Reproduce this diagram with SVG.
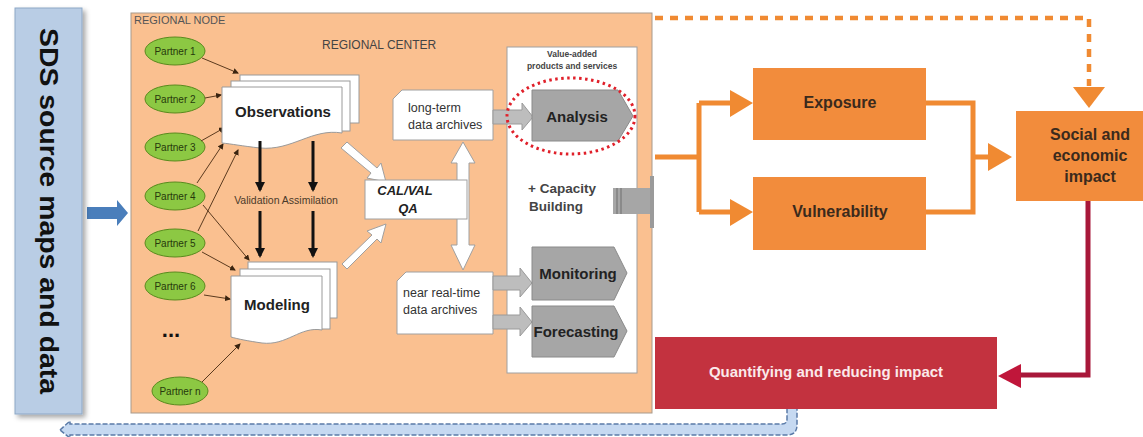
<svg xmlns="http://www.w3.org/2000/svg" width="1143" height="437" viewBox="0 0 1143 437">
<defs>
<style>
text{font-family:"Liberation Sans",Arial,sans-serif}
.pt{font-size:10px;fill:#27380c;text-anchor:middle}
.pe{fill:#8CC843;stroke:#5a8a1e;stroke-width:1}
.doc{fill:#fff;stroke:#9a9a9a;stroke-width:1}
.big{font-size:15px;font-weight:bold;fill:#222;text-anchor:middle}
.arch{fill:#fff;stroke:#a0a0a0;stroke-width:1}
.archt{font-size:12.5px;fill:#333}
.pent{fill:#A6A6A6;stroke:#8a8a8a;stroke-width:1}
.garr{fill:#bdbdbd;stroke:#9a9a9a;stroke-width:1}
.warr{fill:#fff;stroke:#a0a0a0;stroke-width:1}
.pl{stroke:#5b3a1e;stroke-width:1;fill:none;marker-end:url(#sm)}
.or{fill:#F28C3C}
.orl{stroke:#F08A32;stroke-width:5;fill:none}
.ort{font-size:16px;font-weight:bold;fill:#3b2a1c;text-anchor:middle}
.blk{stroke:#111;stroke-width:3;fill:none;marker-end:url(#bk)}
</style>
<marker id="sm" markerWidth="6" markerHeight="6" refX="5" refY="3" orient="auto" markerUnits="userSpaceOnUse"><path d="M0,0 L6,3 L0,6 Z" fill="#3a2410"/></marker>
<marker id="bk" markerWidth="10" markerHeight="10" refX="8" refY="5" orient="auto" markerUnits="userSpaceOnUse"><path d="M0,0 L10,5 L0,10 Z" fill="#111"/></marker>
<filter id="sh" x="-20%" y="-5%" width="150%" height="115%"><feDropShadow dx="3" dy="3" stdDeviation="2.5" flood-color="#000" flood-opacity="0.35"/></filter>
</defs>

<g id="connectors">
<path d="M87,207 H117 V200 L128,213 L117,226 V219 H87 Z" fill="#4A7EBB"/>
<path d="M655,18 H1089 V86" stroke="#F08A32" stroke-width="4.5" fill="none" stroke-dasharray="8,7"/>
<path d="M1073,87 H1105 L1089,108 Z" fill="#F08A32"/>
<path class="orl" d="M655,157 H699 M699,103 V212 M699,103 H732 M699,212 H732"/>
<path d="M730,90 L753,103 L730,117 Z" fill="#F08A32"/>
<path d="M730,199 L753,212 L730,226 Z" fill="#F08A32"/>
<path class="orl" d="M926,103 H973 V212 H926 M973,157 H990"/>
<path d="M988,143 L1012,157 L988,171 Z" fill="#F08A32"/>
<path d="M1088,201 V375 H1015" stroke="#A8183A" stroke-width="5" fill="none"/>
<path d="M1021,364 L998,376 L1021,388 Z" fill="#C0163A"/>
<path d="M60,430 L70,421 V424 H782 Q787,424 787,419 V404 H797 V425 Q797,435 787,435 H70 V438 Z" fill="#C6D9F1" stroke="#5B7BA8" stroke-width="1.5" stroke-dasharray="5,2"/>
</g>

<g id="sds-source">
<rect x="15" y="8" width="67" height="406" fill="#B9CDE5" stroke="#8DA7C6" stroke-width="1" filter="url(#sh)"/>
<text transform="translate(40,211) rotate(90)" text-anchor="middle" font-size="25" font-weight="bold" fill="#111" textLength="366" lengthAdjust="spacingAndGlyphs">SDS source maps and data</text>
</g>

<g id="regional-node">
<rect x="131" y="13" width="521" height="400" fill="#FAC090" stroke="#a89a8c" stroke-width="1"/>
<text x="134" y="24" font-size="11" fill="#555">REGIONAL NODE</text>
<text x="322" y="49" font-size="12" fill="#444">REGIONAL CENTER</text>
</g>

<g id="partners">
<ellipse class="pe" cx="175" cy="51" rx="30" ry="14"/><text class="pt" x="175" y="55">Partner 1</text>
<ellipse class="pe" cx="175" cy="99" rx="30" ry="14"/><text class="pt" x="175" y="103">Partner 2</text>
<ellipse class="pe" cx="175" cy="147" rx="30" ry="14"/><text class="pt" x="175" y="151">Partner 3</text>
<ellipse class="pe" cx="175" cy="196" rx="30" ry="14"/><text class="pt" x="175" y="200">Partner 4</text>
<ellipse class="pe" cx="175" cy="243" rx="30" ry="14"/><text class="pt" x="175" y="247">Partner 5</text>
<ellipse class="pe" cx="175" cy="286" rx="30" ry="14"/><text class="pt" x="175" y="290">Partner 6</text>
<ellipse class="pe" cx="180" cy="391" rx="28" ry="14"/><text class="pt" x="180" y="395">Partner n</text>
<text x="171" y="337" font-size="22" font-weight="bold" fill="#111" text-anchor="middle">...</text>
</g>

<g id="partner-links">
<path class="pl" d="M202,58 L238,73"/>
<path class="pl" d="M205,98 L221,95"/>
<path class="pl" d="M201,141 L224,128"/>
<path class="pl" d="M197,183 L223,144"/>
<path class="pl" d="M198,231 L238,150"/>
<path class="pl" d="M203,205 L249,260"/>
<path class="pl" d="M202,252 L235,270"/>
<path class="pl" d="M204,295 L230,299"/>
<path class="pl" d="M202,382 L240,344"/>
</g>

<g id="observations">
<rect class="doc" x="240" y="75" width="119" height="48"/>
<rect class="doc" x="231" y="81" width="119" height="50"/>
<path class="doc" d="M222,87 H342 V133 C312,128 292,151 260,148 C242,146 232,144 222,143 Z"/>
<text class="big" x="283" y="117">Observations</text>
</g>

<g id="modeling">
<rect class="doc" x="248" y="262" width="89" height="56"/>
<rect class="doc" x="240" y="269" width="90" height="60"/>
<path class="doc" d="M231,276 H322 V330 C300,326 287,346 262,343 C248,341 238,339 231,337 Z"/>
<text class="big" x="277" y="310">Modeling</text>
</g>

<g id="validation">
<path class="blk" d="M260,141 V190"/>
<path class="blk" d="M313,141 V190"/>
<path class="blk" d="M260,211 V256"/>
<path class="blk" d="M313,211 V256"/>
<text x="286" y="204" font-size="10.5" fill="#4a3a2a" text-anchor="middle">Validation Assimilation</text>
</g>

<g id="flows-white">
<path class="warr" d="M347,142 L377,168 L381,163 L386,182 L367,178 L371,173 L341,148 Z"/>
<path class="warr" d="M342,264 L372,235 L367,231 L386,224 L381,243 L377,239 L347,269 Z"/>
<path class="warr" d="M463,142 L475,163 L469,163 V245 L475,245 L463,270 L451,245 L457,245 V163 L451,163 Z"/>
</g>

<g id="calval">
<rect x="365" y="180" width="102" height="39" fill="#fff" stroke="#a0a0a0"/>
<text x="405" y="195" font-size="13" font-weight="bold" font-style="italic" fill="#222" text-anchor="middle">CAL/VAL</text>
<text x="408" y="213" font-size="13" font-weight="bold" font-style="italic" fill="#222" text-anchor="middle">QA</text>
</g>

<g id="long-term">
<path class="arch" d="M402,90 H493 V140 H393 V99 Z"/>
<text class="archt" x="408" y="112">long-term</text>
<text class="archt" x="408" y="129">data archives</text>
</g>

<g id="near-real-time">
<path class="arch" d="M406,272 H493 V334 H397 V281 Z"/>
<text class="archt" x="403" y="297">near real-time</text>
<text class="archt" x="403" y="314">data archives</text>
</g>

<g id="value-added">
<rect x="507" y="47" width="130" height="326" fill="#fff" stroke="#a0a0a0"/>
<text x="572" y="57" font-size="8.5" font-weight="bold" fill="#444" text-anchor="middle">Value-added</text>
<text x="572" y="69" font-size="8.5" font-weight="bold" fill="#444" text-anchor="middle">products and services</text>
<text x="528" y="193" font-size="13.5" font-weight="bold" fill="#444">+ Capacity</text>
<text x="529" y="211" font-size="13.5" font-weight="bold" fill="#444">Building</text>
</g>

<g id="analysis">
<path class="garr" d="M493,110 H522 V103 L533,117 L522,130 V124 H493 Z"/>
<path class="pent" d="M532,90 H618 L633,116 L618,141 H532 Z"/>
<text class="big" x="577" y="122">Analysis</text>
<ellipse cx="571" cy="116" rx="64" ry="38" fill="none" stroke="#E0202A" stroke-width="3" stroke-dasharray="2.5,3.5"/>
</g>

<g id="monitoring">
<path class="garr" d="M493,276 H520 V268 L532,283 L520,297 V290 H493 Z"/>
<path class="pent" d="M532,247 H614 L627,273 L614,300 H532 Z"/>
<text class="big" x="578" y="279">Monitoring</text>
</g>

<g id="forecasting">
<path class="garr" d="M493,315 H520 V307 L532,322 L520,336 V329 H493 Z"/>
<path class="pent" d="M532,306 H614 L627,331 L614,357 H532 Z"/>
<text class="big" x="576" y="337">Forecasting</text>
</g>

<g id="outlet">
<rect x="613" y="188" width="39" height="26" fill="#A6A6A6"/>
<rect x="616" y="188" width="2" height="26" fill="#8a8a8a"/>
<rect x="620" y="188" width="2" height="26" fill="#8a8a8a"/>
<rect x="650" y="176" width="4" height="52" fill="#9a9a9a"/>
</g>

<g id="exposure">
<rect class="or" x="753" y="68" width="173" height="72"/>
<text class="ort" x="840" y="108">Exposure</text>
</g>

<g id="vulnerability">
<rect class="or" x="753" y="177" width="173" height="73"/>
<text class="ort" x="840" y="217">Vulnerability</text>
</g>

<g id="social">
<rect class="or" x="1016" y="111" width="127" height="90"/>
<text class="ort" x="1090" y="140">Social and</text>
<text class="ort" x="1090" y="161">economic</text>
<text class="ort" x="1090" y="182">impact</text>
</g>

<g id="quantifying">
<rect x="655" y="337" width="342" height="72" fill="#C3323F"/>
<text x="826" y="377" font-size="15" font-weight="bold" fill="#fbe9ea" text-anchor="middle">Quantifying and reducing impact</text>
</g>
</svg>
